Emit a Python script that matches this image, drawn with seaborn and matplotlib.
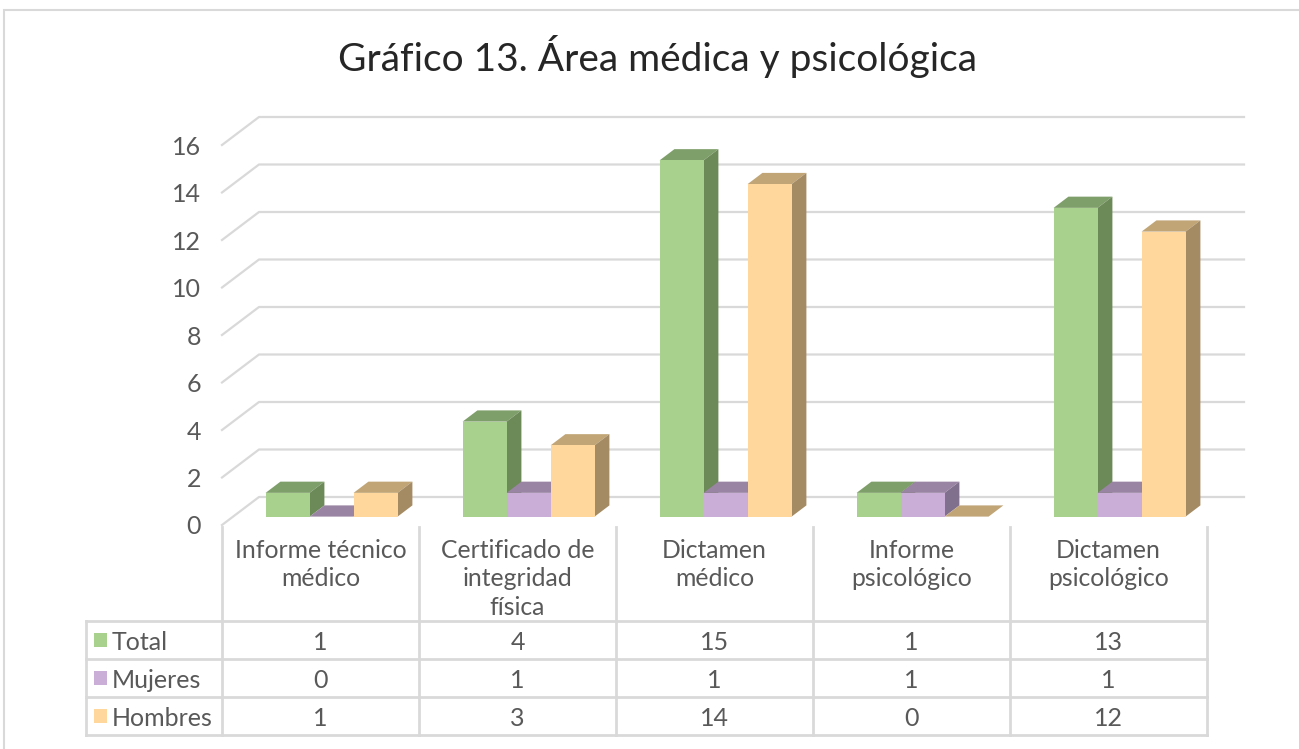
import matplotlib
matplotlib.use("Agg")
import matplotlib.pyplot as plt
import seaborn as sns
import pandas as pd
from matplotlib.patches import Polygon, Rectangle
from matplotlib.lines import Line2D
import matplotlib.transforms as mtrans

# ---------------- data ----------------
categories = ["Informe técnico\nmédico", "Certificado de\nintegridad\nfísica",
              "Dictamen\nmédico", "Informe\npsicológico", "Dictamen\npsicológico"]
series = ["Total", "Mujeres", "Hombres"]
total = [1, 4, 15, 1, 13]
mujeres = [0, 1, 1, 1, 1]
hombres = [1, 3, 14, 0, 12]
yticks = [0, 2, 4, 6, 8, 10, 12, 14, 16]
title = "Gráfico 13. Área médica y psicológica"

front_colors = ["#A9D18E", "#CBAED8", "#FFD79C"]
top_colors = ["#7F9F6A", "#9A84A3", "#C1A577"]
side_colors = ["#6C8958", "#80708D", "#A48B63"]

values = {"Total": total, "Mujeres": mujeres, "Hombres": hombres}
df = pd.DataFrame({
    "Categoria": [c for s in series for c in categories],
    "Serie": [s for s in series for _ in categories],
    "Valor": [v for s in series for v in values[s]],
})

W, H = 1299, 749
plt.rcParams["font.family"] = ["Lato", "DejaVu Sans"]
fig = plt.figure(figsize=(W / 100, H / 100), dpi=100)
fig.patch.set_facecolor("white")

# front plane of the plot area in pixels
left_px, right_px = 222, 1207
y0_px, y16_px = 525, 145
ax = fig.add_axes([left_px / W, (H - y0_px) / H, (right_px - left_px) / W, (y0_px - y16_px) / H])
ax.set_facecolor("none")

sns.barplot(data=df, x="Categoria", y="Valor", hue="Serie", hue_order=series,
            palette=front_colors, width=0.67, saturation=1, legend=False,
            linewidth=0, ax=ax, errorbar=None)

ax.set_xlim(-0.5, len(categories) - 0.5)
ax.set_ylim(0, 16)
for s in ax.spines.values():
    s.set_visible(False)

# depth offsets (pixels -> data units)
DX_PX, DY_PX = 37, 28
ppx = (right_px - left_px) / len(categories)
ppy = (y0_px - y16_px) / 16
DX, DY = DX_PX / ppx, DY_PX / ppy
d0, d1 = 0.30, 0.70

# back-wall gridlines with diagonal floor/side edge
xmin, xmax = -0.5, len(categories) - 0.5
for v in yticks:
    ax.add_line(Line2D([xmin, xmin + DX, xmax + DX], [v, v + DY, v + DY],
                       color="#D9D9D9", lw=1.6, zorder=1, clip_on=False))

# 3-D faces of the bars
for j, cont in enumerate(ax.containers):
    for p in cont.patches:
        x0, w, h = p.get_x(), p.get_width(), p.get_height()
        fx, fy = x0 + d0 * DX, d0 * DY
        ddx, ddy = (d1 - d0) * DX, (d1 - d0) * DY
        p.set_x(fx)
        p.set_y(fy)
        p.set_zorder(3 + j * 0.1 + 0.05)
        p.set_clip_on(False)
        top = Polygon([(fx, fy + h), (fx + w, fy + h), (fx + w + ddx, fy + h + ddy),
                       (fx + ddx, fy + h + ddy)], closed=True,
                      facecolor=top_colors[j], lw=0, zorder=3 + j * 0.1, clip_on=False)
        side = Polygon([(fx + w, fy), (fx + w + ddx, fy + ddy), (fx + w + ddx, fy + h + ddy),
                        (fx + w, fy + h)], closed=True,
                       facecolor=side_colors[j], lw=0, zorder=3 + j * 0.1, clip_on=False)
        ax.add_patch(top)
        ax.add_patch(side)

# axes ticks
ax.set_yticks(yticks)
ax.set_yticklabels([str(v) for v in yticks])
ax.tick_params(axis="y", length=0, pad=15, labelsize=18, labelcolor="#595959")
ax.set_xticks(range(len(categories)))
ax.set_xticklabels(categories, linespacing=1.28)
ax.tick_params(axis="x", length=0, pad=10, labelsize=17.8, labelcolor="#595959")
ax.set_xlabel("")
ax.set_ylabel("")

# ---------------- data table ----------------
line_c = "#D9D9D9"
blend = mtrans.blended_transform_factory(ax.transData, fig.transFigure)
def fy(px):
    return (H - px) / H

row_lines = [621, 659, 697, 735]
table_left = 86
for y in row_lines:
    fig.add_artist(Line2D([table_left / W, right_px / W], [fy(y), fy(y)],
                          color=line_c, lw=2, transform=fig.transFigure))
fig.add_artist(Line2D([table_left / W, table_left / W], [fy(621), fy(735)],
                      color=line_c, lw=2, transform=fig.transFigure))
for k in range(len(categories) + 1):
    xb = k - 0.5
    fig.add_artist(Line2D([xb, xb], [fy(527), fy(735)], color=line_c, lw=2,
                          transform=blend))

row_centers = [640, 678, 716]
for i, s in enumerate(series):
    yc = fy(row_centers[i])
    fig.add_artist(Rectangle((94 / W, yc - 7 / H), 13 / W, 14 / H,
                             facecolor=front_colors[i], lw=0, transform=fig.transFigure))
    fig.text(112 / W, yc, s, ha="left", va="center_baseline", fontsize=18, color="#595959")
    for k, v in enumerate(values[s]):
        fig.text(k, yc, str(v), ha="center", va="center_baseline", fontsize=18,
                 color="#595959", transform=blend)

# chart frame
fig.add_artist(Rectangle((4 / W, -0.05), 1.2, fy(10) + 0.05, facecolor="none",
                         edgecolor="#D9D9D9", lw=1.5, transform=fig.transFigure))

fig.text(658 / W, fy(56), title, ha="center", va="center", fontsize=28, color="#262626")

fig.savefig("out.png", dpi=100)
